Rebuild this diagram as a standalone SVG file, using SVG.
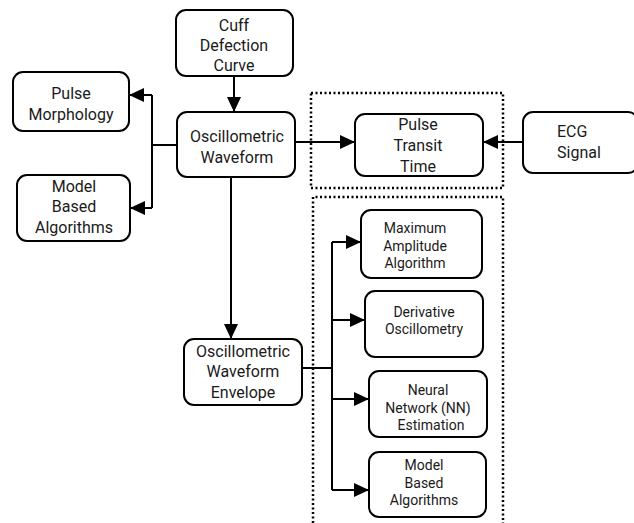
<svg xmlns="http://www.w3.org/2000/svg" width="634" height="523" viewBox="0 0 634 523">
<style>
.box{fill:#fff;stroke:#000;stroke-width:2}
.t{font-family:Roboto,"Liberation Sans",sans-serif;font-size:16px;fill:#1a1a1a;text-anchor:middle}
.s{font-family:Roboto,"Liberation Sans",sans-serif;font-size:14px;fill:#1a1a1a;text-anchor:middle}
.c{fill:none;stroke:#000;stroke-width:2}
.a{marker-end:url(#ah)}
.dot{fill:none;stroke:#000;stroke-width:2.5;stroke-dasharray:2 2.5}
</style>
<defs>
<marker id="ah" markerUnits="userSpaceOnUse" markerWidth="16" markerHeight="16" refX="15" refY="7" orient="auto">
<path d="M0,0 L15,7 L0,14 z" fill="#000"/>
</marker>
</defs>
<rect width="634" height="523" fill="#fff"/>
<g id="groups">
<rect class="dot" x="311" y="93" width="192" height="95"/>
<path class="dot" d="M313,523 V197 H503 V523"/>
</g>
<g id="connectors">
<path class="c a" d="M234,76 V112"/>
<path class="c" d="M177,145 H152 M152,95 V208"/>
<path class="c a" d="M152,95 H129"/>
<path class="c a" d="M152,208 H130"/>
<path class="c a" d="M295,142 H355"/>
<path class="c a" d="M523,142 H483"/>
<path class="c a" d="M231,177 V339"/>
<path class="c" d="M302,368 H332 M332,242 V490"/>
<path class="c a" d="M332,242 H361"/>
<path class="c a" d="M332,320 H365"/>
<path class="c a" d="M332,399 H369"/>
<path class="c a" d="M332,490 H369"/>
</g>
<g id="cuff">
<rect class="box" x="176" y="10" width="117" height="66" rx="10"/>
<text class="t" x="234" y="31">Cuff</text>
<text class="t" x="234" y="51">Defection</text>
<text class="t" x="234" y="71">Curve</text>
</g>
<g id="ow">
<rect class="box" x="177" y="112" width="118" height="65" rx="10"/>
<text class="t" x="237" y="142">Oscillometric</text>
<text class="t" x="237" y="163">Waveform</text>
</g>
<g id="pm">
<rect class="box" x="13" y="72" width="116" height="59" rx="10"/>
<text class="t" x="71" y="99">Pulse</text>
<text class="t" x="71" y="120">Morphology</text>
</g>
<g id="mbl">
<rect class="box" x="17" y="175" width="113" height="66" rx="10"/>
<text class="t" x="74" y="192">Model</text>
<text class="t" x="74" y="212">Based</text>
<text class="t" x="74" y="233">Algorithms</text>
</g>
<g id="ptt">
<rect class="box" x="355" y="114" width="128" height="62" rx="10"/>
<text class="t" x="418" y="130">Pulse</text>
<text class="t" x="418" y="151">Transit</text>
<text class="t" x="418" y="172">Time</text>
</g>
<g id="ecg">
<rect class="box" x="523" y="112" width="115" height="61" rx="10"/>
<text class="t" x="557" y="137" style="text-anchor:start">ECG</text>
<text class="t" x="557" y="158" style="text-anchor:start">Signal</text>
</g>
<g id="env">
<rect class="box" x="184" y="339" width="118" height="66" rx="10"/>
<text class="t" x="243" y="357">Oscillometric</text>
<text class="t" x="243" y="377">Waveform</text>
<text class="t" x="243" y="398">Envelope</text>
</g>
<g id="maa">
<rect class="box" x="361" y="210" width="121" height="68" rx="10"/>
<text class="s" x="415" y="233">Maximum</text>
<text class="s" x="415" y="251">Amplitude</text>
<text class="s" x="415" y="268">Algorithm</text>
</g>
<g id="do">
<rect class="box" x="365" y="291" width="118" height="66" rx="10"/>
<text class="s" x="424" y="317">Derivative</text>
<text class="s" x="424" y="334">Oscillometry</text>
</g>
<g id="nn">
<rect class="box" x="369" y="371" width="118" height="66" rx="10"/>
<text class="s" x="428" y="395">Neural</text>
<text class="s" x="428" y="413">Network (NN)</text>
<text class="s" x="431" y="430">Estimation</text>
</g>
<g id="mbr">
<rect class="box" x="369" y="452" width="117" height="65" rx="10"/>
<text class="s" x="424" y="470">Model</text>
<text class="s" x="424" y="488">Based</text>
<text class="s" x="424" y="505">Algorithms</text>
</g>
</svg>
